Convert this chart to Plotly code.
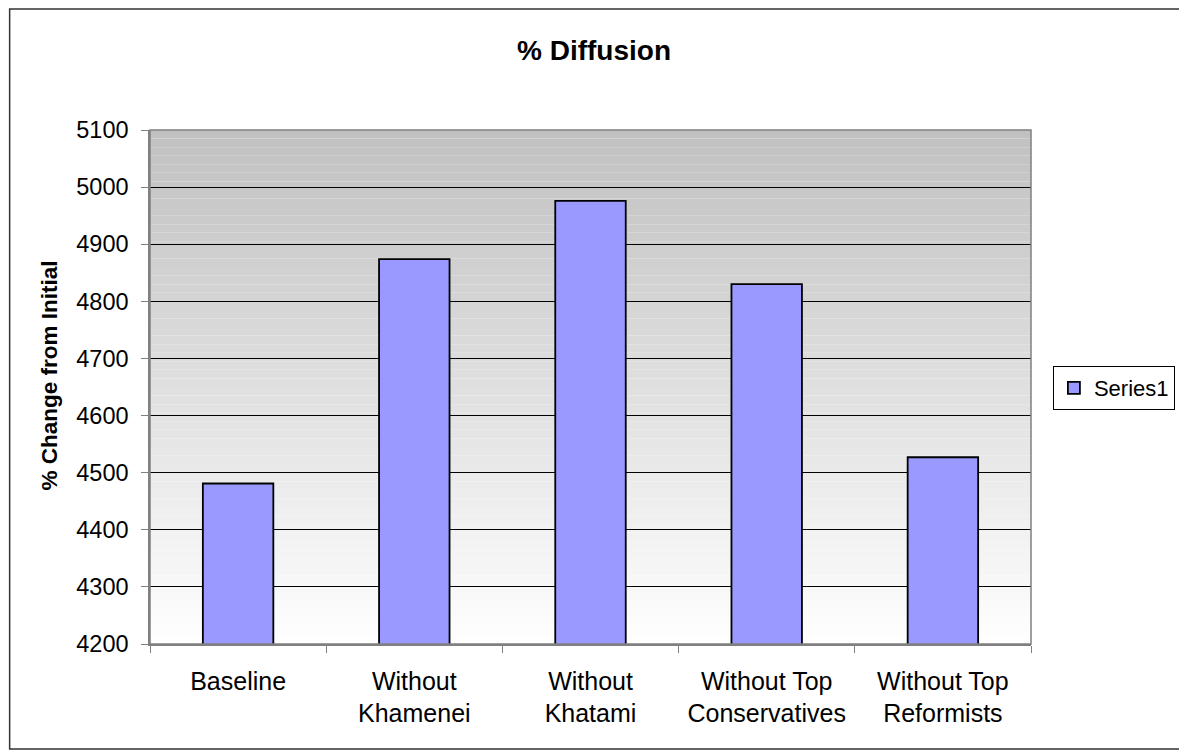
import plotly.graph_objects as go

categories = ["Baseline", "Without Khamenei", "Without Khatami",
              "Without Top Conservatives", "Without Top Reformists"]
tick_labels = ["Baseline", "Without<br>Khamenei", "Without<br>Khatami",
               "Without Top<br>Conservatives", "Without Top<br>Reformists"]
series1 = [4481, 4874, 4976, 4830, 4527]
y_ticks = [4200, 4300, 4400, 4500, 4600, 4700, 4800, 4900, 5000, 5100]

OFF = 8  # page body margin
W, H = 1179, 747
L, T = 142, 122
pw, ph = 885, 514
R, B = W - L - pw, H - T - ph

def px_x(v):
    return (v - OFF - L) / pw

def px_y(v):
    return (H - B - (v - OFF)) / ph

fig = go.Figure()
fig.add_trace(go.Bar(
    x=categories, y=series1, name="Series1",
    marker=dict(color="#9999FF", line=dict(color="black", width=1.8)),
))

shapes = []
n = 60
for i in range(n):
    g = int(round(192 + (255 - 192) * (i + 0.5) / n))
    shapes.append(dict(
        type="rect", xref="x domain", yref="y domain",
        x0=0, x1=1, y0=1 - (i + 1) / n, y1=1 - i / n,
        fillcolor=f"rgb({g},{g},{g})", line=dict(width=0), layer="below",
    ))
shapes.append(dict(type="rect", xref="x domain", yref="y domain",
                   x0=0, x1=1, y0=0, y1=1, line=dict(color="#808080", width=1.5),
                   layer="above"))
shapes.append(dict(type="rect", xref="paper", yref="paper",
                   x0=px_x(9), x1=px_x(1185), y0=px_y(749), y1=px_y(9),
                   line=dict(color="#333333", width=1.5)))

fig.update_layout(
    width=W, height=H,
    margin=dict(l=L, r=R, t=T, b=B),
    paper_bgcolor="white", plot_bgcolor="rgba(0,0,0,0)",
    font=dict(family="Liberation Sans, Arial, sans-serif", color="black"),
    bargap=0.6,
    shapes=shapes,
    showlegend=True,
    legend=dict(x=px_x(1057), xanchor="left", y=px_y(388), yanchor="middle",
                bordercolor="black", borderwidth=1, bgcolor="white",
                font=dict(size=22)),
    annotations=[
        dict(text="<b>% Diffusion</b>", xref="paper", yref="paper",
             x=(596 - OFF - L) / pw, y=px_y(50), xanchor="center", yanchor="middle",
             showarrow=False, font=dict(size=28)),
        dict(text="<b>% Change from Initial</b>", xref="paper", yref="paper",
             x=px_x(49), y=px_y(375), xanchor="center", yanchor="middle",
             textangle=-90, showarrow=False, font=dict(size=22.5)),
    ],
)
fig.update_xaxes(
    tickvals=categories, ticktext=tick_labels, tickson="boundaries",
    ticks="outside", ticklen=7, tickcolor="#808080",
    showline=True, linecolor="#808080", linewidth=1.5,
    showgrid=False, tickfont=dict(size=25), ticklabelstandoff=14,
)
fig.update_yaxes(
    range=[4200, 5100], tickvals=y_ticks,
    ticks="outside", ticklen=7, tickcolor="#808080",
    showline=True, linecolor="#808080", linewidth=1.5,
    showgrid=True, gridcolor="black", gridwidth=1,
    tickfont=dict(size=23.5), ticklabelstandoff=8, zeroline=False,
)

fig.write_html("out.html")
